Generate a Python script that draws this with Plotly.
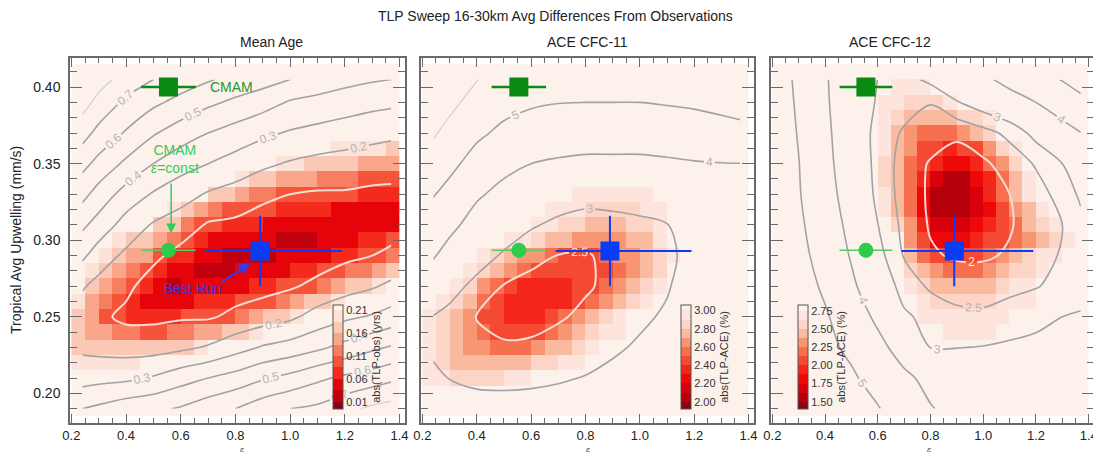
import numpy as np
import plotly.graph_objects as go

FONT = "Liberation Sans, Arial, Helvetica, sans-serif"

EPS_RANGE = [0.195, 1.42]
W_RANGE = [0.181, 0.419]

# ---------------- grids (cell centres) ----------------
heat_eps = [0.225, 0.275, 0.325, 0.375, 0.425, 0.475, 0.525, 0.575, 0.625, 0.675, 0.725, 0.775,
            0.825, 0.875, 0.925, 0.975, 1.025, 1.075, 1.125, 1.175, 1.225, 1.275, 1.325, 1.375]
heat_w = [0.19, 0.20, 0.21, 0.22, 0.23, 0.24, 0.25, 0.26, 0.27, 0.28, 0.29, 0.30,
          0.31, 0.32, 0.33, 0.34, 0.35, 0.36, 0.37, 0.38, 0.39, 0.40, 0.41]
cont_eps = [0.24, 0.30, 0.40, 0.50, 0.60, 0.70, 0.80, 0.90, 1.00, 1.10, 1.20, 1.30, 1.37]
cont_w = [0.19, 0.21, 0.23, 0.25, 0.27, 0.29, 0.31, 0.33, 0.35, 0.37, 0.39, 0.405]

# ---------------- Panel 1: Mean Age, abs(TLP-obs) in 0.01 yrs ----------------
# heat columns (one list per heat_eps), rows 0.22 .. 0.37
age_heat_first_w = 0.22
age_heat_cap = 25
age_heat_cols = [
    [20, 18, 16, 16, 19, 22, 25, 25, 25, 25, 25, 25, 25, 25, 25, 25],
    [20, 18, 15, 14, 15, 17, 19, 22, 25, 25, 25, 25, 25, 25, 25, 25],
    [20, 17, 14, 11, 13, 15, 17, 19, 22, 25, 25, 25, 25, 25, 25, 25],
    [20, 16, 12, 9, 10, 12, 14, 16, 19, 22, 25, 25, 25, 25, 25, 25],
    [20, 16, 12, 8, 8, 10, 12, 15, 18, 21, 24, 25, 25, 25, 25, 25],
    [21, 16, 11, 8, 5, 7, 10, 14, 17, 21, 25, 25, 25, 25, 25, 25],
    [22, 16, 11, 8, 5, 5, 8, 10, 14, 18, 23, 25, 25, 25, 25, 25],
    [23, 17, 12, 8, 6, 3, 6, 8, 12, 16, 20, 25, 25, 25, 25, 25],
    [25, 18, 13, 9, 6, 4, 4, 7, 9, 13, 18, 23, 25, 25, 25, 25],
    [25, 20, 14, 9, 7, 4, 3, 5, 8, 10, 15, 21, 25, 25, 25, 25],
    [25, 21, 15, 10, 7, 5, 3, 4, 6, 9, 13, 18, 24, 25, 25, 25],
    [25, 23, 17, 11, 8, 6, 3, 3, 6, 8, 11, 16, 22, 25, 25, 25],
    [25, 24, 18, 13, 9, 6, 4, 3, 5, 7, 10, 15, 19, 24, 25, 25],
    [25, 25, 20, 14, 10, 7, 5, 2, 4, 7, 9, 13, 18, 22, 25, 25],
    [25, 25, 22, 16, 11, 8, 5, 3, 4, 6, 9, 12, 16, 21, 25, 25],
    [25, 25, 24, 18, 12, 9, 6, 4, 3, 5, 8, 11, 15, 20, 25, 25],
    [25, 25, 25, 20, 14, 10, 7, 4, 2, 5, 8, 10, 14, 19, 24, 25],
    [25, 25, 25, 22, 16, 11, 8, 5, 3, 5, 7, 10, 14, 18, 22, 25],
    [25, 25, 25, 25, 18, 13, 9, 6, 4, 4, 7, 9, 13, 17, 21, 25],
    [25, 25, 25, 25, 20, 15, 10, 7, 5, 4, 6, 9, 12, 16, 20, 25],
    [25, 25, 25, 25, 22, 17, 12, 8, 6, 4, 6, 9, 12, 16, 19, 24],
    [25, 25, 25, 25, 24, 18, 13, 9, 7, 4, 6, 8, 11, 15, 19, 24],
    [25, 25, 25, 25, 25, 20, 15, 11, 8, 5, 6, 8, 11, 15, 19, 23],
    [25, 25, 25, 25, 25, 23, 17, 12, 9, 6, 6, 8, 10, 14, 18, 23],
]
# contour field columns (one list per cont_eps, values at cont_w)
age_cont_cols = [
    [40, 26, 18, 15, 21, 32, 42, 53, 63, 74, 84, 92],
    [42, 27, 17, 12, 17, 25, 36, 46, 57, 67, 77, 84],
    [46, 28, 16, 8, 12, 18, 26, 36, 48, 59, 68, 76],
    [48, 31, 16, 8, 6, 12, 19, 29, 40, 51, 62, 70],
    [51, 36, 18, 9, 4, 7, 15, 24, 34, 45, 57, 65],
    [56, 40, 21, 9, 4, 4, 9, 19, 30, 40, 52, 61],
    [60, 44, 26, 12, 6, 3, 8, 16, 26, 36, 48, 57],
    [66, 49, 31, 15, 7, 3, 6, 12, 22, 32, 44, 54],
    [70, 53, 34, 18, 9, 4, 5, 10, 19, 29, 39, 50],
    [72, 58, 38, 24, 12, 6, 4, 9, 17, 27, 37, 46],
    [77, 62, 43, 28, 16, 8, 4, 9, 16, 25, 35, 43],
    [82, 65, 48, 31, 19, 10, 5, 8, 15, 23, 33, 41],
    [84, 68, 51, 34, 22, 12, 6, 8, 14, 22, 32, 40],
]

# ---------------- Panel 2: ACE CFC-11, abs(TLP-ACE) in 0.01 % ----------------
cfc11_heat_cap = 310
cfc11_heat_rows = {  # w : (first heat column, values)
    0.33: (11, [298, 296, 295, 295, 296, 298]),
    0.32: (9, [298, 294, 291, 289, 288, 288, 289, 292, 297]),
    0.31: (8, [298, 292, 287, 283, 280, 279, 279, 281, 285, 293]),
    0.30: (6, [297, 290, 283, 277, 272, 268, 266, 266, 268, 272, 280, 292]),
    0.29: (4, [296, 289, 280, 270, 260, 252, 248, 247, 249, 254, 261, 269, 278, 287, 298]),
    0.28: (3, [296, 287, 276, 262, 252, 246, 242, 241, 242, 245, 250, 257, 266, 276, 288, 300]),
    0.27: (2, [297, 287, 270, 258, 247, 240, 236, 235, 237, 242, 249, 258, 268, 278, 288, 298]),
    0.26: (1, [297, 287, 272, 258, 246, 238, 233, 232, 234, 240, 248, 257, 267, 278, 289, 299]),
    0.25: (0, [296, 288, 276, 262, 250, 242, 236, 234, 237, 244, 253, 263, 274, 285, 295, 301, 304]),
    0.24: (0, [293, 285, 275, 263, 252, 246, 243, 243, 246, 253, 263, 273, 283, 292, 298, 302]),
    0.23: (0, [291, 284, 276, 268, 262, 258, 257, 259, 264, 271, 280, 289, 296, 302]),
    0.22: (0, [292, 286, 280, 276, 274, 274, 276, 279, 284, 289, 294, 299, 302]),
    0.21: (0, [296, 292, 289, 288, 288, 289, 292, 296, 300]),
}
cfc11_cont_cols = [
    [331, 311, 291, 298, 351, 407, 456, 505, 558, 610, 663, 700],
    [319, 299, 278, 285, 320, 370, 421, 472, 523, 573, 623, 662],
    [316, 291, 264, 248, 285, 325, 367, 411, 465, 517, 566, 602],
    [319, 287, 255, 236, 247, 293, 335, 376, 423, 480, 530, 565],
    [321, 289, 256, 238, 238, 261, 307, 353, 400, 457, 511, 544],
    [322, 295, 268, 245, 234, 249, 286, 335, 389, 446, 502, 531],
    [326, 302, 280, 259, 245, 247, 274, 324, 382, 441, 500, 530],
    [332, 312, 293, 277, 260, 258, 283, 321, 382, 441, 500, 530],
    [338, 322, 306, 292, 280, 274, 290, 324, 382, 441, 500, 530],
    [348, 334, 320, 306, 296, 291, 298, 338, 388, 445, 506, 549],
    [360, 351, 342, 333, 324, 315, 342, 368, 395, 450, 514, 566],
    [375, 367, 359, 351, 343, 335, 356, 377, 398, 460, 529, 582],
    [385, 377, 369, 361, 353, 345, 363, 381, 399, 468, 542, 600],
]

# ---------------- Panel 3: ACE CFC-12, abs(TLP-ACE) in 0.01 % ----------------
cfc12_heat_cap = 290
cfc12_heat_rows = {
    0.40: (8, [276, 272, 272, 275]),
    0.39: (8, [272, 266, 262, 260, 262, 268]),
    0.38: (8, [268, 258, 250, 246, 245, 247, 252, 262, 274]),
    0.37: (8, [265, 250, 236, 224, 218, 218, 226, 242, 262, 278]),
    0.36: (8, [263, 246, 228, 210, 200, 196, 200, 212, 230, 252, 272]),
    0.35: (8, [262, 244, 224, 204, 190, 184, 186, 196, 214, 236, 260, 277]),
    0.34: (8, [262, 242, 218, 190, 170, 160, 162, 176, 198, 222, 248, 272]),
    0.33: (8, [264, 244, 215, 182, 160, 151, 154, 168, 192, 216, 244, 270]),
    0.32: (8, [270, 248, 220, 184, 160, 152, 154, 166, 184, 204, 226, 248, 266, 277]),
    0.31: (9, [252, 226, 192, 170, 164, 166, 176, 190, 206, 222, 238, 254, 268]),
    0.30: (10, [236, 206, 186, 180, 182, 190, 200, 212, 224, 236, 248, 262, 274]),
    0.29: (10, [246, 222, 206, 200, 200, 206, 216, 228, 240, 252, 264, 274, 279]),
    0.28: (10, [255, 238, 226, 220, 220, 224, 232, 242, 252, 262, 272, 279]),
    0.27: (10, [264, 252, 243, 238, 238, 241, 247, 255, 263, 270, 277]),
    0.26: (11, [264, 256, 252, 252, 254, 258, 264, 270, 275, 279]),
    0.25: (11, [272, 266, 263, 263, 265, 268, 272, 276, 279]),
    0.24: (12, [276, 273, 272, 273, 275, 277, 279]),
    0.23: (13, [279, 278, 278, 279]),
}
cfc12_cont_rows = [  # one list per cont_w, values at cont_eps
    [590, 585, 570, 540, 505, 455, 405, 375, 355, 345, 342, 342, 343],
    [585, 575, 550, 512, 468, 418, 375, 345, 330, 325, 325, 328, 330],
    [580, 565, 521, 483, 426, 362, 299, 299, 302, 308, 312, 317, 320],
    [574, 550, 510, 450, 382, 309, 283, 264, 261, 274, 287, 300, 305],
    [570, 540, 486, 415, 345, 278, 242, 227, 225, 236, 247, 265, 280],
    [555, 526, 465, 393, 320, 246, 206, 194, 194, 205, 229, 255, 275],
    [545, 515, 449, 376, 301, 236, 195, 164, 172, 196, 223, 250, 285],
    [535, 506, 434, 361, 287, 230, 192, 157, 172, 200, 229, 269, 310],
    [532, 502, 424, 352, 283, 230, 195, 176, 192, 220, 255, 300, 335],
    [532, 495, 418, 346, 282, 243, 227, 210, 232, 263, 319, 365, 398],
    [530, 487, 411, 345, 294, 273, 252, 296, 331, 366, 400, 448, 481],
    [525, 482, 407, 352, 299, 281, 313, 349, 385, 424, 464, 504, 530],
]

# ---------------- reference points ----------------
cmam_eps, cmam_w, cmam_err = [0.555], [0.40], [0.10]
const_eps, const_w, const_err = [0.555], [0.2935], [0.10]
best_eps, best_w = [0.89], [0.293]
best_err_lo, best_err_hi, best_err_w = [0.20], [0.30], [0.023]

# colorbar band edges / ticks
age_bounds = [-0.006, 0.01, 0.035, 0.06, 0.085, 0.11, 0.135, 0.16, 0.185, 0.21, 0.222]
age_ticks = [0.01, 0.06, 0.11, 0.16, 0.21]
cfc11_bounds = [1.92, 2.0, 2.1, 2.2, 2.3, 2.4, 2.5, 2.6, 2.7, 2.8, 2.9, 3.0, 3.06]
cfc11_ticks = [2.0, 2.2, 2.4, 2.6, 2.8, 3.0]
cfc12_bounds = [1.40, 1.5, 1.625, 1.75, 1.875, 2.0, 2.125, 2.25, 2.375, 2.5, 2.625, 2.75, 2.83]
cfc12_ticks = [1.5, 1.75, 2.0, 2.25, 2.5, 2.75]

COLORS12 = ['#8c0010', '#b5000c', '#d8000a', '#ee0808', '#f4261a', '#f54a32', '#f6704f',
            '#f89674', '#faba9f', '#fcd5c6', '#fde4dc', '#fdf1ec']
COLORS10 = ['#8c0010', '#c0000c', '#e6040a', '#f42a1c', '#f5543a', '#f77e60', '#f9a68a',
            '#fbc8b6', '#fde2d8', '#fdf1ec']


# ---------------- helpers ----------------
def nearest(seq, v):
    return min(range(len(seq)), key=lambda i: abs(seq[i] - v))


def heat_from_cols(cols, first_w, cap):
    z = np.full((len(heat_w), len(heat_eps)), float(cap))
    i0 = nearest(heat_w, first_w)
    for j, col in enumerate(cols):
        for k, v in enumerate(col):
            z[i0 + k, j] = v
    return z / 100.0


def heat_from_rows(rows, cap):
    z = np.full((len(heat_w), len(heat_eps)), float(cap))
    for w, (j0, vals) in rows.items():
        i = nearest(heat_w, w)
        for k, v in enumerate(vals):
            z[i, j0 + k] = v
    return z / 100.0


def stepped(bounds, colors):
    lo, hi = bounds[0], bounds[-1]
    cs = []
    for k, c in enumerate(colors):
        a = (bounds[k] - lo) / (hi - lo)
        b = (bounds[k + 1] - lo) / (hi - lo)
        cs.append([round(a, 6), c])
        cs.append([round(b, 6), c])
    cs[0][0] = 0.0
    cs[-1][0] = 1.0
    return cs


# page layout: the plot div sits 8 px inside the page (default body margin)
W, H, OFF = 1093, 446, 8


def px_x(px):
    return (px - OFF) / W


def px_y(py):
    return 1 - (py - OFF) / H


panels = [
    dict(heat=heat_from_cols(age_heat_cols, age_heat_first_w, age_heat_cap),
         cont=np.array(age_cont_cols, dtype=float).T / 100.0,
         bounds=age_bounds, colors=COLORS10, ticks=age_ticks, tickfmt='{:.2f}',
         cbx=px_x(333), cbtitle='abs(TLP-obs) (yrs)',
         gray=[(0.2, 0.71, 0.1)], faint=[(0.8, 0.8, 1)], white=0.1, white_lab=False, fmt='.1f'),
    dict(heat=heat_from_rows(cfc11_heat_rows, cfc11_heat_cap),
         cont=np.array(cfc11_cont_cols, dtype=float).T / 100.0,
         bounds=cfc11_bounds, colors=COLORS12, ticks=cfc11_ticks, tickfmt='{:.2f}',
         cbx=px_x(681), cbtitle='abs(TLP-ACE) (%)',
         gray=[(3, 5.01, 1)], faint=[(6, 6, 1)], white=2.5, white_lab=True, fmt='~g'),
    dict(heat=heat_from_rows(cfc12_heat_rows, cfc12_heat_cap),
         cont=np.array(cfc12_cont_rows, dtype=float) / 100.0,
         bounds=cfc12_bounds, colors=COLORS12, ticks=cfc12_ticks, tickfmt='{:.2f}',
         cbx=px_x(798), cbtitle='abs(TLP-ACE) (%)',
         gray=[(2.5, 2.5, 1), (3, 5.01, 1)], faint=[], white=2.0, white_lab=True, fmt='~g'),
]

GREEN_DARK = '#0a8a12'
GREEN_LIGHT = '#2ecc4a'
BLUE = '#0a3cf5'
GRAY_LINE = '#a2a2a2'
GRAY_LAB = '#b4b4b4'

xdoms = [[px_x(70), px_x(405)], [px_x(421), px_x(754)], [px_x(771), px_x(1094)]]
ydom = [px_y(422.5), px_y(58)]

fig = go.Figure()


def contour(z, start, end, size, color, width, xa, ya, labels, fmt, labcolor):
    return go.Contour(
        x=cont_eps, y=cont_w, z=z, xaxis=xa, yaxis=ya, autocontour=False,
        contours=dict(start=start, end=end, size=size, coloring='none', showlabels=labels,
                      labelfont=dict(family=FONT, size=12, color=labcolor), labelformat=fmt),
        line=dict(color=color, width=width, smoothing=0.9), showscale=False, hoverinfo='skip')


for k, p in enumerate(panels):
    xa = 'x' if k == 0 else 'x%d' % (k + 1)
    ya = 'y' if k == 0 else 'y%d' % (k + 1)
    b = p['bounds']
    fig.add_trace(go.Heatmap(
        x=heat_eps, y=heat_w, z=p['heat'], xaxis=xa, yaxis=ya,
        zmin=b[0], zmax=b[-1], colorscale=stepped(b, p['colors']), hoverinfo='skip',
        colorbar=dict(x=p['cbx'], xanchor='left', xpad=0, ypad=0, y=px_y(357), yanchor='middle',
                      lenmode='pixels', len=104, thicknessmode='pixels', thickness=10,
                      outlinewidth=1, outlinecolor='#555', ticks='',
                      tickvals=p['ticks'], ticktext=[p['tickfmt'].format(t) for t in p['ticks']],
                      tickfont=dict(family=FONT, size=11, color='#333'),
                      title=dict(text=p['cbtitle'], side='right',
                                 font=dict(family=FONT, size=11, color='#333')))))
    for (s, e, d) in p['faint']:
        fig.add_trace(contour(p['cont'], s, e, d, '#d4d0ce', 1.2, xa, ya, False, p['fmt'], GRAY_LAB))
    for (s, e, d) in p['gray']:
        fig.add_trace(contour(p['cont'], s, e, d, GRAY_LINE, 1.6, xa, ya, True, p['fmt'], GRAY_LAB))
    fig.add_trace(contour(p['cont'], p['white'], p['white'], 1, '#f7dcd5', 2.0, xa, ya,
                          p['white_lab'], p['fmt'], '#fbeae5'))

    fig.add_trace(go.Scatter(
        x=const_eps, y=const_w, mode='markers', xaxis=xa, yaxis=ya, hoverinfo='skip',
        marker=dict(symbol='circle', size=15, color=GREEN_LIGHT),
        error_x=dict(type='data', array=const_err, color='#55cc66', thickness=1.5, width=0)))
    fig.add_trace(go.Scatter(
        x=cmam_eps, y=cmam_w, mode='markers', xaxis=xa, yaxis=ya, hoverinfo='skip',
        marker=dict(symbol='square', size=19, color=GREEN_DARK),
        error_x=dict(type='data', array=cmam_err, color=GREEN_DARK, thickness=2.5, width=0)))
    fig.add_trace(go.Scatter(
        x=best_eps, y=best_w, mode='markers', xaxis=xa, yaxis=ya, hoverinfo='skip',
        marker=dict(symbol='square', size=19, color=BLUE),
        error_x=dict(type='data', symmetric=False, array=best_err_hi, arrayminus=best_err_lo,
                     color=BLUE, thickness=2, width=0),
        error_y=dict(type='data', array=best_err_w, color=BLUE, thickness=2, width=0)))

axis_common = dict(showline=True, linecolor='#6a6a6a', linewidth=1.5, mirror='allticks',
                   ticks='inside', tickcolor='#6a6a6a', tickwidth=1.2, showgrid=False,
                   zeroline=False)
layout = dict(width=W, height=H, autosize=False,
              margin=dict(l=0, r=0, t=0, b=0, autoexpand=False),
              paper_bgcolor='white', plot_bgcolor='white', showlegend=False)
for k in range(3):
    xk = 'xaxis' if k == 0 else 'xaxis%d' % (k + 1)
    yk = 'yaxis' if k == 0 else 'yaxis%d' % (k + 1)
    layout[xk] = dict(axis_common, domain=xdoms[k], range=EPS_RANGE,
                      anchor='y' if k == 0 else 'y%d' % (k + 1),
                      tickfont=dict(family=FONT, size=13, color='#222'),
                      tick0=0.2, dtick=0.2, tickformat='.1f', ticklen=9, ticklabelstandoff=0,
                      minor=dict(ticks='inside', tick0=0.2, dtick=0.05, ticklen=5,
                                 tickcolor='#6a6a6a', tickwidth=1.2))
    layout[yk] = dict(axis_common, domain=ydom, range=W_RANGE,
                      anchor='x' if k == 0 else 'x%d' % (k + 1),
                      tickfont=dict(family=FONT, size=14, color='#222'),
                      tick0=0.2, dtick=0.05, tickformat='.2f', ticklen=12, ticklabelstandoff=5,
                      showticklabels=(k == 0),
                      minor=dict(ticks='inside', tick0=0.2, dtick=0.01, ticklen=7,
                                 tickcolor='#6a6a6a', tickwidth=1.2))

centers = [sum(d) / 2 for d in xdoms]
ann = [
    dict(text='TLP Sweep 16-30km Avg Differences From Observations', x=px_x(555), y=px_y(16),
         xref='paper', yref='paper', yanchor='middle', showarrow=False,
         font=dict(family=FONT, size=14, color='#222')),
    dict(text='Tropical Avg Upwelling (mm/s)', x=px_x(16), y=px_y(240), xref='paper', yref='paper',
         textangle=-90, xanchor='center', yanchor='middle', showarrow=False,
         font=dict(family=FONT, size=14, color='#222')),
]
for c, t in zip(centers, ['Mean Age', 'ACE CFC-11', 'ACE CFC-12']):
    ann.append(dict(text=t, x=c, y=px_y(42), xref='paper', yref='paper', yanchor='middle',
                    showarrow=False, font=dict(family=FONT, size=14, color='#222')))
    ann.append(dict(text='<i>ε</i>', x=c, y=px_y(449), yanchor='middle', xref='paper', yref='paper',
                    showarrow=False, font=dict(family='DejaVu Serif', size=8, color='#333')))
ann += [
    dict(text='CMAM', x=0.70, y=0.40, xref='x', yref='y', xanchor='left', showarrow=False,
         font=dict(family=FONT, size=14, color='#1a9a2a')),
    dict(text='CMAM<br><i>ε</i>=const', x=0.578, y=0.353, xref='x', yref='y', showarrow=False,
         font=dict(family=FONT, size=14, color='#33cc55')),
    dict(text='', x=0.565, y=0.3045, ax=0.565, ay=0.338, xref='x', yref='y', axref='x', ayref='y',
         showarrow=True, arrowhead=2, arrowsize=1.3, arrowwidth=1.5, arrowcolor='#33cc55'),
    dict(text='Best Run', x=0.645, y=0.269, xref='x', yref='y', showarrow=False,
         font=dict(family=FONT, size=14, color='#3a3ae6')),
    dict(text='', x=0.855, y=0.285, ax=0.745, ay=0.272, xref='x', yref='y', axref='x', ayref='y',
         showarrow=True, arrowhead=2, arrowsize=1.2, arrowwidth=2, arrowcolor='#3a3ae6'),
]
layout['annotations'] = ann
fig.update_layout(**layout)
fig.write_html('out.html')
